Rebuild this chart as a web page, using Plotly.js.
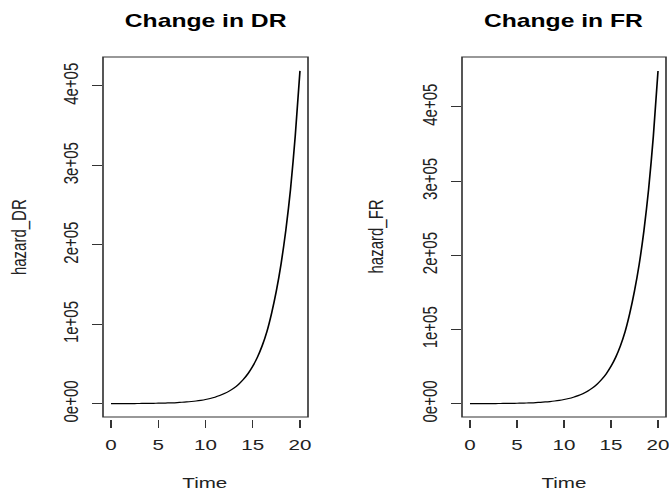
<!DOCTYPE html>
<html>
<head>
<meta charset="utf-8">
<script src="https://cdn.plot.ly/plotly-3.0.1.min.js"></script>
<style>
html,body{margin:0;padding:0;background:#fff;overflow:hidden;width:669px;height:493px;}
#chart{width:500px;height:493px;transform:scaleX(1.3709);transform-origin:0 0;}
</style>
</head>
<body>
<div id="chart"></div>
<script>
// Data
var time = [0, 0.5, 1, 1.5, 2, 2.5, 3, 3.5, 4, 4.5, 5, 5.5, 6, 6.5, 7, 7.5, 8, 8.5, 9, 9.5, 10,
            10.5, 11, 11.5, 12, 12.5, 13, 13.5, 14, 14.5, 15, 15.5, 16, 16.5, 17, 17.5, 18, 18.5, 19, 19.5, 20];
var hazardDR = [67, 83, 104, 129, 160, 200, 248, 309, 384, 478, 595, 740, 920, 1150, 1430, 1780, 2210, 2750, 3420, 4260, 5300,
                6590, 8200, 10200, 12700, 15800, 19650, 24450, 30430, 37860, 47110, 58610, 72930, 90740, 114000, 142000, 176000, 218000, 270000, 337000, 419000];
var hazardFR = [72, 89, 111, 138, 171, 214, 265, 331, 411, 511, 637, 792, 984, 1230, 1530, 1900, 2360, 2940, 3660, 4560, 5670,
                7050, 8770, 10900, 13600, 16900, 21000, 26200, 32600, 40500, 50400, 62700, 78000, 97100, 122000, 152000, 188000, 233000, 289000, 360000, 448500];
var xTicks = [0, 5, 10, 15, 20];
var yTickVals = [0, 100000, 200000, 300000, 400000];
var yTickText = ["0e+00", "1e+05", "2e+05", "3e+05", "4e+05"];
var titles = ["Change in DR", "Change in FR"];
var yLabels = ["hazard_DR", "hazard_FR"];
var xLabel = "Time";

// The original is horizontally stretched: draw at 500 px and stretch by 1.3709
var S = 1.3709, W = 500, H = 493;
var RW = W * S; // width of the drawing in screen pixels
var FONT = "Liberation Sans, Arial, sans-serif";
var tickFont = {family: FONT, size: 15, color: "#222"};

var traces = [
  {x: time, y: hazardDR, type: "scatter", mode: "lines", line: {color: "#000", width: 1.2, shape: "spline", smoothing: 0.8}, xaxis: "x", yaxis: "y", hoverinfo: "skip"},
  {x: time, y: hazardFR, type: "scatter", mode: "lines", line: {color: "#000", width: 1.2, shape: "spline", smoothing: 0.8}, xaxis: "x2", yaxis: "y2", hoverinfo: "skip"}
];

function xa(domain, pos) {
  return {domain: domain, range: [-0.85, 20.85], anchor: "free", position: pos,
    tickmode: "array", tickvals: xTicks, ticks: "outside", ticklen: 8, tickwidth: 1, tickcolor: "#333",
    ticklabelstandoff: 4,
    showline: false, showgrid: false, zeroline: false, tickfont: tickFont, fixedrange: true};
}
function ya(domain, range, pos) {
  return {domain: domain, range: range, anchor: "free", position: pos,
    tickmode: "array", tickvals: yTickVals, ticktext: yTickText, tickangle: -90,
    ticks: "outside", ticklen: 7, tickwidth: 1, tickcolor: "#333",
    ticklabelstandoff: 4,
    showline: false, showgrid: false, zeroline: false, tickfont: tickFont, fixedrange: true};
}

var yDom = [(H - 417) / H, (H - 57) / H];
var x1Dom = [103 / RW, 308 / RW];
var x2Dom = [462 / RW, 666 / RW];

var layout = {
  width: W, height: H,
  margin: {l: 0, r: 0, t: 0, b: 0},
  paper_bgcolor: "#fff", plot_bgcolor: "#fff",
  showlegend: false,
  xaxis: xa(x1Dom, (H - 419) / H),
  yaxis: ya(yDom, [-16760, 436500], 101.5 / RW),
  xaxis2: xa(x2Dom, (H - 419) / H),
  yaxis2: ya(yDom, [-17900, 467300], 460.5 / RW),
  shapes: [
    {type: "rect", xref: "x domain", yref: "y domain", x0: 0, x1: 1, y0: 0, y1: 1, line: {color: "#333", width: 1.2}},
    {type: "rect", xref: "x2 domain", yref: "y2 domain", x0: 0, x1: 1, y0: 0, y1: 1, line: {color: "#333", width: 1.2}}
  ],
  annotations: [
    {text: "<b>" + titles[0] + "</b>", xref: "paper", yref: "paper", x: 205.5 / RW, y: 1 - 21 / H, showarrow: false, xanchor: "center", yanchor: "middle", font: {family: FONT, size: 18, color: "#000"}},
    {text: "<b>" + titles[1] + "</b>", xref: "paper", yref: "paper", x: 564 / RW, y: 1 - 21 / H, showarrow: false, xanchor: "center", yanchor: "middle", font: {family: FONT, size: 18, color: "#000"}},
    {text: xLabel, xref: "paper", yref: "paper", x: 205.5 / RW, y: 1 - 482 / H, showarrow: false, xanchor: "center", yanchor: "middle", font: {family: FONT, size: 15, color: "#222"}},
    {text: xLabel, xref: "paper", yref: "paper", x: 564 / RW, y: 1 - 482 / H, showarrow: false, xanchor: "center", yanchor: "middle", font: {family: FONT, size: 15, color: "#222"}},
    {text: yLabels[0], xref: "paper", yref: "paper", x: 18 / RW, y: 1 - 237 / H, showarrow: false, textangle: -90, xanchor: "center", yanchor: "middle", font: {family: FONT, size: 15, color: "#222"}},
    {text: yLabels[1], xref: "paper", yref: "paper", x: 375 / RW, y: 1 - 237 / H, showarrow: false, textangle: -90, xanchor: "center", yanchor: "middle", font: {family: FONT, size: 15, color: "#222"}}
  ]
};

Plotly.newPlot("chart", traces, layout, {staticPlot: true, displayModeBar: false});
</script>
</body>
</html>
